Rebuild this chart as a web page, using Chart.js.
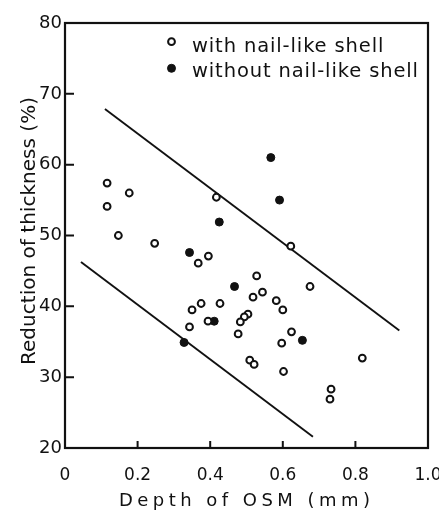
<!DOCTYPE html>
<html>
<head>
<meta charset="utf-8">
<script src="https://cdn.jsdelivr.net/npm/chart.js@4"></script>
<style>
  html, body { margin: 0; padding: 0; background: #fff; }
  #wrap { width: 439px; height: 512px; }
</style>
</head>
<body>
<div id="wrap"><canvas id="grafico"></canvas></div>
<script>
// Dados ======================================================================

const withShellX = [0.116, 0.116, 0.177, 0.147, 0.247, 0.417, 0.622, 0.367, 0.395, 0.528, 0.675,
  0.544, 0.518, 0.582, 0.600, 0.624, 0.597, 0.375, 0.427, 0.350, 0.343, 0.394, 0.504, 0.494,
  0.483, 0.477, 0.509, 0.521, 0.602, 0.819, 0.733, 0.730];
const withShellY = [57.4, 54.1, 56.0, 50.0, 48.9, 55.4, 48.5, 46.1, 47.1, 44.3, 42.8,
  42.0, 41.3, 40.8, 39.5, 36.4, 34.8, 40.4, 40.4, 39.5, 37.1, 37.9, 38.9, 38.5,
  37.8, 36.1, 32.4, 31.8, 30.8, 32.7, 28.3, 26.9];

const withoutShellX = [0.567, 0.591, 0.425, 0.343, 0.467, 0.411, 0.654, 0.328];
const withoutShellY = [61.0, 55.0, 51.9, 47.6, 42.8, 37.9, 35.2, 34.9];

const upperLineX = [0.110, 0.921];
const upperLineY = [67.85, 36.6];
const lowerLineX = [0.044, 0.683];
const lowerLineY = [46.25, 21.6];

const xTicks = [0, 0.2, 0.4, 0.6, 0.8, 1.0];
const yTicks = [20, 30, 40, 50, 60, 70, 80];

const seriesLabels = ["with nail-like shell", "without nail-like shell"];
const xTitle = "Depth of OSM (mm)";
const yTitle = "Reduction of thickness (%)";

const toPoints = (xs, ys) => xs.map((x, i) => ({ x: x, y: ys[i] }));

const ink = "#111";
const fonte = "DejaVu Sans";

// texto espaçado para ocupar uma largura dada
function spacingFor(ctx, text, width) {
  ctx.letterSpacing = "0px";
  const w = ctx.measureText(text).width;
  return (width - w) / (text.length - 1) + "px";
}

// Plugin: moldura, ticks internos, títulos e legenda =========================

const moldura = {
  id: "moldura",
  afterDatasetsDraw(chart) {
    const ctx = chart.ctx;
    const a = chart.chartArea;
    const sx = chart.scales.x;
    const sy = chart.scales.y;
    ctx.save();
    ctx.strokeStyle = ink;
    ctx.lineWidth = 2.2;
    ctx.strokeRect(a.left, a.top, a.right - a.left, a.bottom - a.top);

    ctx.lineWidth = 2;
    ctx.beginPath();
    xTicks.slice(1, -1).forEach((v) => {
      const px = sx.getPixelForValue(v);
      ctx.moveTo(px, a.bottom);
      ctx.lineTo(px, a.bottom - 7);
    });
    yTicks.slice(1, -1).forEach((v) => {
      const py = sy.getPixelForValue(v);
      ctx.moveTo(a.left, py);
      ctx.lineTo(a.left + 9, py);
    });
    ctx.stroke();

    // títulos dos eixos
    ctx.fillStyle = ink;
    ctx.textAlign = "left";
    ctx.textBaseline = "alphabetic";
    ctx.font = "18px '" + fonte + "'";
    ctx.letterSpacing = spacingFor(ctx, xTitle, 251);
    ctx.fillText(xTitle, 119, 506);

    ctx.save();
    ctx.font = "20px '" + fonte + "'";
    ctx.letterSpacing = spacingFor(ctx, yTitle, 268);
    ctx.translate(35, 365);
    ctx.rotate(-Math.PI / 2);
    ctx.fillText(yTitle, 0, 0);
    ctx.restore();

    // legenda
    ctx.font = "19.5px '" + fonte + "'";
    const esp = spacingFor(ctx, seriesLabels[1], 226);
    const rows = [{ mark: 41.7, base: 52 }, { mark: 68.3, base: 77 }];
    seriesLabels.forEach((label, i) => {
      const ds = chart.data.datasets[i];
      ctx.beginPath();
      ctx.arc(171.5, rows[i].mark, ds.pointRadius, 0, Math.PI * 2);
      ctx.fillStyle = ds.pointBackgroundColor;
      ctx.fill();
      ctx.lineWidth = ds.pointBorderWidth;
      ctx.strokeStyle = ink;
      ctx.stroke();
      ctx.fillStyle = ink;
      ctx.letterSpacing = esp;
      ctx.fillText(label, 192, rows[i].base);
    });
    ctx.restore();
  },
};

// Gráfico ====================================================================

const dataGrafico = {
  datasets: [
    {
      label: seriesLabels[0],
      data: toPoints(withShellX, withShellY),
      pointRadius: 3.4,
      pointBorderWidth: 2,
      pointBackgroundColor: "#fff",
      pointBorderColor: ink,
      order: 1,
    },
    {
      label: seriesLabels[1],
      data: toPoints(withoutShellX, withoutShellY),
      pointRadius: 4,
      pointBorderWidth: 1,
      pointBackgroundColor: ink,
      pointBorderColor: ink,
      order: 1,
    },
    {
      label: "upper",
      type: "line",
      data: toPoints(upperLineX, upperLineY),
      borderColor: ink,
      borderWidth: 1.9,
      pointRadius: 0,
      order: 2,
    },
    {
      label: "lower",
      type: "line",
      data: toPoints(lowerLineX, lowerLineY),
      borderColor: ink,
      borderWidth: 1.9,
      pointRadius: 0,
      order: 2,
    },
  ],
};

const configGrafico = {
  type: "scatter",
  data: dataGrafico,
  plugins: [moldura],
  options: {
    responsive: true,
    maintainAspectRatio: false,
    animation: false,
    layout: { padding: { top: 23, right: 11, left: 0, bottom: 0 } },
    plugins: { legend: { display: false }, tooltip: { enabled: false } },
    scales: {
      x: {
        type: "linear",
        min: 0,
        max: 1,
        grid: { display: false, drawTicks: false },
        border: { display: false },
        afterBuildTicks: (scale) => { scale.ticks = xTicks.map((v) => ({ value: v })); },
        afterFit: (scale) => { scale.height = 64; scale.paddingLeft = 0; scale.paddingRight = 0; },
        ticks: {
          color: ink,
          padding: 17,
          maxRotation: 0,
          font: { family: fonte, size: 17 },
          callback: (v) => (v === 0 ? "0" : v.toFixed(1)),
        },
      },
      y: {
        type: "linear",
        min: 20,
        max: 80,
        grid: { display: false, drawTicks: false },
        border: { display: false },
        afterBuildTicks: (scale) => { scale.ticks = yTicks.map((v) => ({ value: v })); },
        afterFit: (scale) => { scale.width = 65; },
        ticks: {
          color: ink,
          padding: 3,
          font: { family: fonte, size: 18 },
        },
      },
    },
  },
};

const grafico = new Chart(document.getElementById("grafico"), configGrafico);
</script>
</body>
</html>
